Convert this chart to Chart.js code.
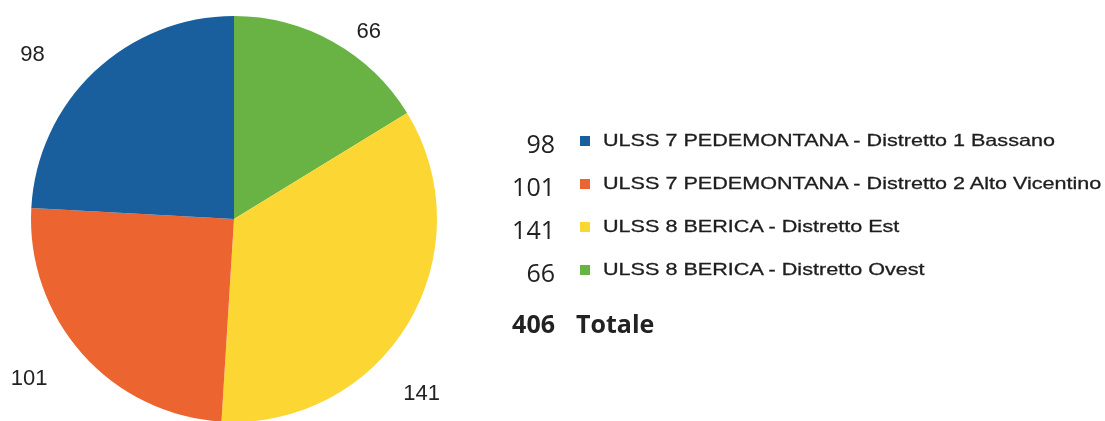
<!DOCTYPE html>
<html>
<head>
<meta charset="utf-8">
<script src="https://cdn.jsdelivr.net/npm/chart.js@4"></script>
<style>
  html, body { margin: 0; padding: 0; background: #ffffff; overflow: hidden; }
  #wrap { position: relative; width: 1105px; height: 421px; }
  #c { position: absolute; left: 0; top: 0; }
  .row { position: absolute; left: 480px; height: 40px; white-space: nowrap; }
  .num { position: absolute; right: 0; width: 75px; text-align: right; font-family: "Open Sans", Lato, sans-serif; font-size: 25px; color: #222; }
  .sw { position: absolute; width: 10px; height: 10px; }
  .lab { position: absolute; font-family: "Liberation Sans", Arial, sans-serif; font-size: 17px; color: #1e1e1e;
         transform: scaleX(1.27); transform-origin: 0 50%; -webkit-text-stroke: 0.3px #1e1e1e; }
</style>
</head>
<body>
<div id="wrap">
  <canvas id="c" width="1105" height="425"></canvas>
  <div id="legend"></div>
</div>
<script>
const categories = [
  "ULSS 7 PEDEMONTANA - Distretto 1 Bassano",
  "ULSS 7 PEDEMONTANA - Distretto 2 Alto Vicentino",
  "ULSS 8 BERICA - Distretto Est",
  "ULSS 8 BERICA - Distretto Ovest"
];
const values = [98, 101, 141, 66];
const colors = ["#1a5f9d", "#ec6430", "#fcd733", "#69b345"];
const totalLabel = "Totale";
const total = values.reduce((a, b) => a + b, 0);

// Pie is drawn clockwise from the top starting with the last category
const pieLabels = categories.slice().reverse();
const pieValues = values.slice().reverse();
const pieColors = colors.slice().reverse();

// label placement relative to each slice's mid-angle (deg shift, radius factor)
const labelAngleShift = [6.5, 12, 3.7, -7.4];
const labelRadiusFactor = [1.136, 1.265, 1.28, 1.28];

const outsideLabels = {
  id: 'outsideLabels',
  afterDatasetsDraw(chart) {
    const ctx = chart.ctx;
    const meta = chart.getDatasetMeta(0);
    ctx.save();
    ctx.font = '22px "Liberation Sans", Arial, sans-serif';
    ctx.fillStyle = '#222';
    ctx.textAlign = 'center';
    ctx.textBaseline = 'middle';
    meta.data.forEach((arc, i) => {
      const p = arc.getProps(['x', 'y', 'startAngle', 'endAngle', 'outerRadius'], true);
      const mid = (p.startAngle + p.endAngle) / 2 + labelAngleShift[i] * Math.PI / 180;
      const r = p.outerRadius * labelRadiusFactor[i];
      ctx.fillText(String(pieValues[i]), p.x + Math.cos(mid) * r, p.y + Math.sin(mid) * r);
    });
    ctx.restore();
  }
};

new Chart(document.getElementById('c'), {
  type: 'pie',
  data: {
    labels: pieLabels,
    datasets: [{
      data: pieValues,
      backgroundColor: pieColors,
      borderWidth: 0
    }]
  },
  options: {
    responsive: false,
    animation: false,
    layout: { padding: { left: 31, right: 668, top: 16, bottom: 3 } },
    plugins: {
      legend: { display: false },
      tooltip: { enabled: false }
    }
  },
  plugins: [outsideLabels]
});

// HTML legend built from the arrays
const legend = document.getElementById('legend');
categories.forEach((cat, i) => {
  const top = 126 + i * 43;
  const row = document.createElement('div');
  row.className = 'row';
  row.style.top = top + 'px';
  row.innerHTML =
    '<span class="num" style="left:0;top:0px;">' + values[i] + '</span>' +
    '<span class="sw" style="left:100px;top:10px;background:' + colors[i] + '"></span>' +
    '<span class="lab" style="left:123px;top:5px;">' + cat + '</span>';
  legend.appendChild(row);
});
const tot = document.createElement('div');
tot.className = 'row';
tot.style.top = (126 + 4 * 43 + 8) + 'px';
tot.innerHTML =
  '<span class="num" style="left:0;top:0px;font-weight:bold;">' + total + '</span>' +
  '<span class="num" style="left:96px;top:0px;text-align:left;font-weight:bold;">' + totalLabel + '</span>';
legend.appendChild(tot);
</script>
</body>
</html>
